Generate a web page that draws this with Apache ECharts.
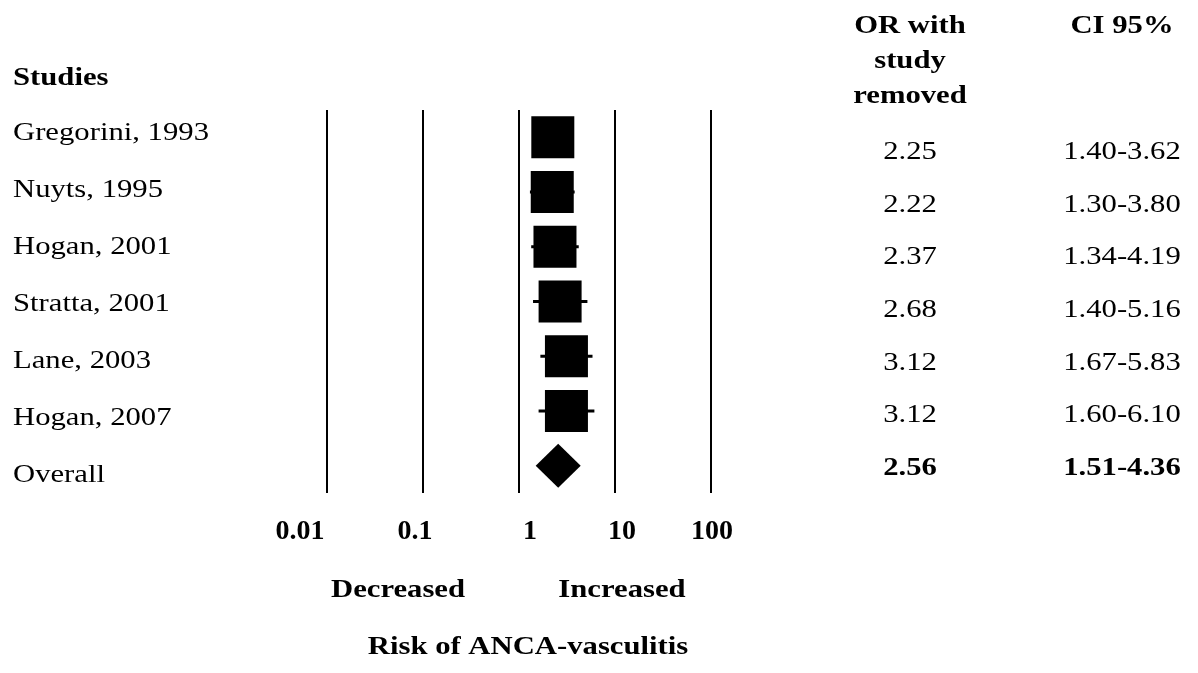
<!DOCTYPE html>
<html>
<head>
<meta charset="utf-8">
<script src="https://cdn.jsdelivr.net/npm/echarts@6/dist/echarts.min.js"></script>
<style>html,body{margin:0;padding:0;background:#fff}#c{width:1198px;height:673px}</style>
</head>
<body>
<div id="c"></div>
<script>
const studies = ['Gregorini, 1993','Nuyts, 1995','Hogan, 2001','Stratta, 2001','Lane, 2003','Hogan, 2007','Overall'];
const orValues = [2.25, 2.22, 2.37, 2.68, 3.12, 3.12, 2.56];
const ciLow = [1.40, 1.30, 1.34, 1.40, 1.67, 1.60, 1.51];
const ciHigh = [3.62, 3.80, 4.19, 5.16, 5.83, 6.10, 4.36];
const orLabels = ['2.25','2.22','2.37','2.68','3.12','3.12','2.56'];
const ciLabels = ['1.40-3.62','1.30-3.80','1.34-4.19','1.40-5.16','1.67-5.83','1.60-6.10','1.51-4.36'];
const tickLabels = ['0.01','0.1','1','10','100'];

const FONT = 'Liberation Serif';
const SX = 1.18;
const chart = echarts.init(document.getElementById('c'));

const nStudy = studies.length - 1;
const studyPts = [], overallPts = [], ciData = [];
for (let i = 0; i < studies.length; i++) {
  if (i < nStudy) studyPts.push([orValues[i], studies[i]]);
  else overallPts.push([orValues[i], studies[i]]);
  if (i < nStudy) ciData.push([ciLow[i], ciHigh[i], studies[i]]);
}

function txt(x, y, text, bold, align) {
  return {
    type: 'text', x: x, y: y, scaleX: SX,
    style: {
      text: text, fontFamily: FONT, fontSize: 26, fontWeight: bold ? 'bold' : 'normal',
      fill: '#000', align: align || 'center', verticalAlign: 'middle'
    }
  };
}

const graphics = [];
graphics.push(txt(13, 78, 'Studies', true, 'left'));
studies.forEach((s, i) => {
  graphics.push(txt(13, 133 + i * 57, s, false, 'left'));
});
graphics.push({type: 'text', x: 910, y: 61, scaleX: SX,
  style: {text: 'OR with\nstudy\nremoved', fontFamily: FONT, fontSize: 26, fontWeight: 'bold', lineHeight: 35, fill: '#000', align: 'center', verticalAlign: 'middle'}});
graphics.push(txt(1122, 26, 'CI 95%', true));
orLabels.forEach((s, i) => {
  const bold = i === orLabels.length - 1;
  graphics.push(txt(910, 152 + i * 52.7, s, bold));
  graphics.push(txt(1122, 152 + i * 52.7, ciLabels[i], bold));
});
graphics.push(txt(398, 590, 'Decreased', true));
graphics.push(txt(622, 590, 'Increased', true));
graphics.push(txt(528, 647, 'Risk of ANCA-vasculitis', true));

const shiftRich = {
  a: {padding: [0, 54, 0, 0]},
  b: {padding: [0, 16, 0, 0]},
  c: {padding: [0, 0, 0, 22]},
  d: {padding: [0, 0, 0, 14]},
  e: {padding: [0, 0, 0, 2]}
};
const richKeys = ['a','b','c','d','e'];

chart.setOption({
  animation: false,
  backgroundColor: '#fff',
  grid: {left: 327, width: 384, top: 110, height: 383},
  xAxis: {
    type: 'log', logBase: 10, min: 0.01, max: 100,
    axisLine: {show: false}, axisTick: {show: false},
    splitLine: {show: true, showMinLine: true, showMaxLine: true, lineStyle: {color: '#000', width: 2}},
    axisLabel: {
      margin: 25, fontFamily: FONT, fontSize: 28, fontWeight: 'bold', color: '#000',
      formatter: function (v) {
        const k = Math.round(Math.log10(v)) + 2;
        return '{' + richKeys[k] + '|' + tickLabels[k] + '}';
      },
      rich: shiftRich
    }
  },
  yAxis: {
    type: 'category', data: studies, inverse: true, boundaryGap: true,
    axisLine: {show: false}, axisTick: {show: false}, axisLabel: {show: false}, splitLine: {show: false}
  },
  graphic: graphics,
  series: [
    {
      type: 'custom', z: 2,
      renderItem: function (params, api) {
        const p1 = api.coord([api.value(0), api.value(2)]);
        const p2 = api.coord([api.value(1), api.value(2)]);
        return {type: 'line', shape: {x1: p1[0], y1: p1[1], x2: p2[0], y2: p2[1]},
          style: {stroke: '#000', lineWidth: 3}};
      },
      encode: {x: [0, 1], y: 2},
      data: ciData
    },
    {
      type: 'scatter', z: 3, symbol: 'rect', symbolSize: [43, 42],
      itemStyle: {color: '#000', opacity: 1}, data: studyPts
    },
    {
      type: 'scatter', z: 3, symbol: 'diamond', symbolSize: [45, 44],
      itemStyle: {color: '#000', opacity: 1}, data: overallPts
    }
  ]
});
</script>
</body>
</html>
